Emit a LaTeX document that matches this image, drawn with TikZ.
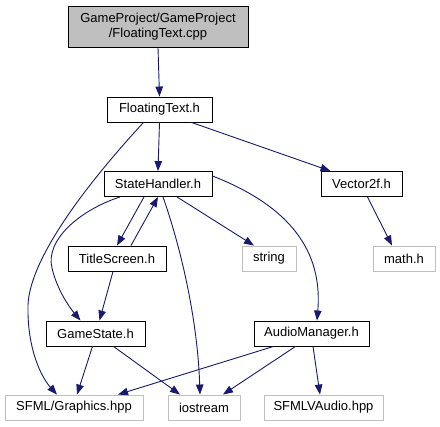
\documentclass[tikz,border=0pt]{standalone}
\usepackage{fontspec}
\setmainfont{Liberation Sans}
\usepackage{tikz}
\usetikzlibrary{arrows.meta}
\usepackage{xcolor}
\definecolor{edgeblue}{HTML}{191970}
\definecolor{extgray}{HTML}{BFBFBF}

\begin{document}
\begin{tikzpicture}[x=1pt,y=-1pt,>={Triangle[length=10pt,width=7.5pt]},
  font=\fontsize{13}{15.5}\selectfont,
  box/.style={draw=black,line width=0.9pt,fill=white,minimum height=25pt,inner sep=0pt},
  extbox/.style={box,draw=extgray},
  dep/.style={->,edgeblue,line width=0.9pt}]
\useasboundingbox (0,0) rectangle (440,427);
% files of the project
\node[box,fill=extgray,minimum width=180pt,minimum height=41pt,align=center] (top) at (158,26.5) {GameProject/GameProject\\/FloatingText.cpp};
\node[box,minimum width=105pt] (ft) at (159.5,109.5) {FloatingText.h};
\node[box,minimum width=108pt] (sh) at (158,184) {StateHandler.h};
\node[box,minimum width=81pt] (vec) at (361.5,184) {Vector2f.h};
\node[box,minimum width=98pt] (ts) at (117,258.5) {TitleScreen.h};
\node[box,minimum width=99pt] (gs) at (95.5,333.5) {GameState.h};
\node[box,minimum width=115pt] (am) at (311.5,333.5) {AudioManager.h};
% outside headers
\node[extbox,minimum width=54pt] (str) at (269,258.5) {string};
\node[extbox,minimum width=62pt] (math) at (404,258.5) {math.h};
\node[extbox,minimum width=138pt] (sfg) at (74,407.5) {SFML/Graphics.hpp};
\node[extbox,minimum width=72pt] (ios) at (204,407.5) {iostream};
\node[extbox,minimum width=119pt] (sfa) at (323.5,407.5) {SFMLVAudio.hpp};
% includes
\draw[dep] (top.south) -- (ft.north);
\draw[dep] (ft.south) -- (sh.north);
\draw[dep] ([xshift=32pt]ft.south) -- ([xshift=-31pt]vec.north);
\draw[dep] ([xshift=-16pt]ft.south) .. controls (95,175) and (30,255) .. (28,305)
  .. controls (27,350) and (42,378) .. ([xshift=-17pt]sfg.north);
\draw[dep] ([xshift=-14pt]sh.south) -- (ts.north);
\draw[dep] ([xshift=14pt]ts.north) -- (sh.south);
\draw[dep] ([xshift=-38pt]sh.south) .. controls (80,210) and (45,240) .. (52,268)
  .. controls (57,290) and (70,308) .. ([xshift=-15pt]gs.north);
\draw[dep] ([xshift=5pt]sh.south) .. controls (185,260) and (198,330) .. ([xshift=-4pt]ios.north);
\draw[dep] ([xshift=19pt]sh.south) -- ([xshift=-15pt]str.north);
\draw[dep] ([yshift=8pt]sh.east) .. controls (300,210) and (322,260) .. ([xshift=5.5pt]am.north);
\draw[dep] ([xshift=-4pt]ts.south) -- ([xshift=4pt]gs.north);
\draw[dep] ([xshift=6pt]vec.south) -- ([xshift=-12pt]math.north);
\draw[dep] ([xshift=-3pt]gs.south) -- ([xshift=3pt]sfg.north);
\draw[dep] ([xshift=18pt]gs.south) -- ([xshift=-24pt]ios.north);
\draw[dep] ([xshift=-38pt]am.south) -- ([xshift=44pt]sfg.north);
\draw[dep] ([xshift=-16pt]am.south) -- ([xshift=19pt]ios.north);
\draw[dep] ([xshift=1.5pt]am.south) -- ([xshift=-3.5pt]sfa.north);
\end{tikzpicture}
\end{document}
